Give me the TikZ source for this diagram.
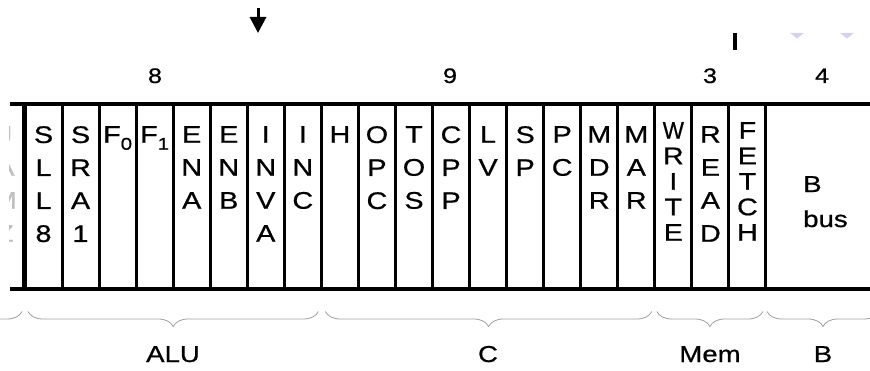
\documentclass[tikz,border=0pt]{standalone}
\usepackage{fontspec}
\setmainfont{Liberation Sans}[FakeStretch=1.2, FakeBold=0.7]
\usepackage{xcolor}
\usetikzlibrary{arrows.meta,positioning,decorations.pathreplacing}
\definecolor{ghost}{RGB}{214,208,242}
\newcommand{\fsub}[1]{\raisebox{-7pt}{\fontsize{17}{17}\selectfont #1}}

\begin{document}
\begin{tikzpicture}[x=1pt, y=-1pt]

% Microinstruction field layout
\tikzstyle{field}=[rectangle, draw=black, line width=3pt, minimum width=37.05pt, minimum height=185pt, inner sep=0pt, outer sep=0pt]
\tikzstyle{lettr}=[align=center, inner sep=0pt, font=\fontsize{24}{33}\selectfont]
\tikzstyle{tight}=[align=center, inner sep=0pt, font=\fontsize{24}{25.5}\selectfont]
\tikzstyle{count}=[anchor=base, inner sep=0pt, font=\fontsize{21}{21}\selectfont]
\tikzstyle{grplab}=[anchor=base, inner sep=0pt, font=\fontsize{23}{23}\selectfont]
\tikzstyle{grp}=[decorate, decoration={brace, mirror, amplitude=15pt}, draw=gray!75, line width=0.8pt]
\tikzstyle{rail}=[line width=4pt]

\useasboundingbox (0,0) rectangle (870,371);

% Fields
\node[field] (sll) at (43.5,197) {};
\node[field, right=0pt of sll] (sra) {};
\node[field, right=0pt of sra] (fa) {};
\node[field, right=0pt of fa] (fb) {};
\node[field, right=0pt of fb] (ena) {};
\node[field, right=0pt of ena] (enb) {};
\node[field, right=0pt of enb] (inva) {};
\node[field, right=0pt of inva] (inc) {};
\node[field, right=0pt of inc] (h) {};
\node[field, right=0pt of h] (opc) {};
\node[field, right=0pt of opc] (tos) {};
\node[field, right=0pt of tos] (cpp) {};
\node[field, right=0pt of cpp] (lv) {};
\node[field, right=0pt of lv] (sp) {};
\node[field, right=0pt of sp] (pc) {};
\node[field, right=0pt of pc] (mdr) {};
\node[field, right=0pt of mdr] (mar) {};
\node[field, right=0pt of mar] (write) {};
\node[field, right=0pt of write] (read) {};
\node[field, right=0pt of read] (fetch) {};
\node[field, right=0pt of fetch, draw=none, minimum width=114pt] (bbus) {};

% Top and bottom rails
\coordinate (railTL) at (10,104.5);
\coordinate (railTR) at (872,104.5);
\coordinate (railBL) at (10,289.5);
\coordinate (railBR) at (872,289.5);
\draw[rail] (railTL) -- (railTR);
\draw[rail] (railBL) -- (railBR);
\draw[line width=5pt] (sll.north west) -- (sll.south west);

% Cut-off field on the left
\begin{scope}
\clip (9,100) rectangle (17,295);
\node[lettr, text=gray!50, anchor=north] (tjamz) at (5,126) {J\\A\\M\\Z};
\end{scope}

% Field names
\node[lettr, below=21.5pt of sll.north] (tsll) {S\\L\\L\\8};
\node[lettr, below=21.5pt of sra.north] (tsra) {S\\R\\A\\1};
\node[lettr, below=21.5pt of fa.north] (tfa) {F\fsub{0}};
\node[lettr, below=21.5pt of fb.north] (tfb) {F\fsub{1}};
\node[lettr, below=21.5pt of ena.north] (tena) {E\\N\\A};
\node[lettr, below=21.5pt of enb.north] (tenb) {E\\N\\B};
\node[lettr, below=21.5pt of inva.north] (tinva) {I\\N\\V\\A};
\node[lettr, below=21.5pt of inc.north] (tinc) {I\\N\\C};
\node[lettr, below=21.5pt of h.north] (th) {H};
\node[lettr, below=21.5pt of opc.north] (topc) {O\\P\\C};
\node[lettr, below=21.5pt of tos.north] (ttos) {T\\O\\S};
\node[lettr, below=21.5pt of cpp.north] (tcpp) {C\\P\\P};
\node[lettr, below=21.5pt of lv.north] (tlv) {L\\V};
\node[lettr, below=21.5pt of sp.north] (tsp) {S\\P};
\node[lettr, below=21.5pt of pc.north] (tpc) {P\\C};
\node[lettr, below=21.5pt of mdr.north] (tmdr) {M\\D\\R};
\node[lettr, below=21.5pt of mar.north] (tmar) {M\\A\\R};
\node[tight, below=17.5pt of write.north] (twrite) {\scalebox{0.78}[1]{W}\\R\\I\\T\\E};
\node[lettr, below=21.5pt of read.north] (tread) {R\\E\\A\\D};
\node[tight, below=17.5pt of fetch.north] (tfetch) {F\\E\\T\\C\\H};
\node[lettr, align=left, anchor=north west, font=\fontsize{23}{35}\selectfont] (tbus) at (803,176) {B\\bus};

% Field widths
\node[count] (n8) at (155,83) {8};
\node[count] (n9) at (450,83) {9};
\node[count] (n3) at (710,83) {3};
\node[count] (n4) at (822,83) {4};

% Marks above
\coordinate (arrS) at (258,8);
\coordinate (arrE) at (258,33);
\draw[-{Triangle[width=16pt,length=16pt]}, line width=3pt] (arrS) -- (arrE);
\coordinate (tickS) at (735,33);
\coordinate (tickE) at (735,50);
\draw[line width=3.5pt] (tickS) -- (tickE);
\fill[ghost] (790,33) -- (804,33) -- (797,38.5) -- cycle;
\fill[ghost] (840,33) -- (854,33) -- (847,38.5) -- cycle;

% Groups
\coordinate (brL0) at (-150,311.5);
\coordinate (brL1) at (22,311.5);
\draw[grp] (brL0) -- (brL1);
\draw[grp] ([xshift=3pt,yshift=-22pt]sll.south west) -- ([xshift=-3pt,yshift=-22pt]inc.south east);
\draw[grp] ([xshift=4pt,yshift=-22pt]h.south west) -- ([xshift=-3pt,yshift=-22pt]mar.south east);
\draw[grp] ([xshift=2pt,yshift=-22pt]write.south west) -- ([xshift=-3pt,yshift=-22pt]fetch.south east);
\draw[grp] ([xshift=1pt,yshift=-22pt]bbus.south west) -- ([xshift=-1pt,yshift=-22pt]bbus.south east);

\node[grplab] (lalu) at (173,362) {ALU};
\node[grplab] (lc) at (488,362) {C};
\node[grplab] (lmem) at (710,362) {Mem};
\node[grplab] (lb) at (823,362) {B};

\end{tikzpicture}
\end{document}
